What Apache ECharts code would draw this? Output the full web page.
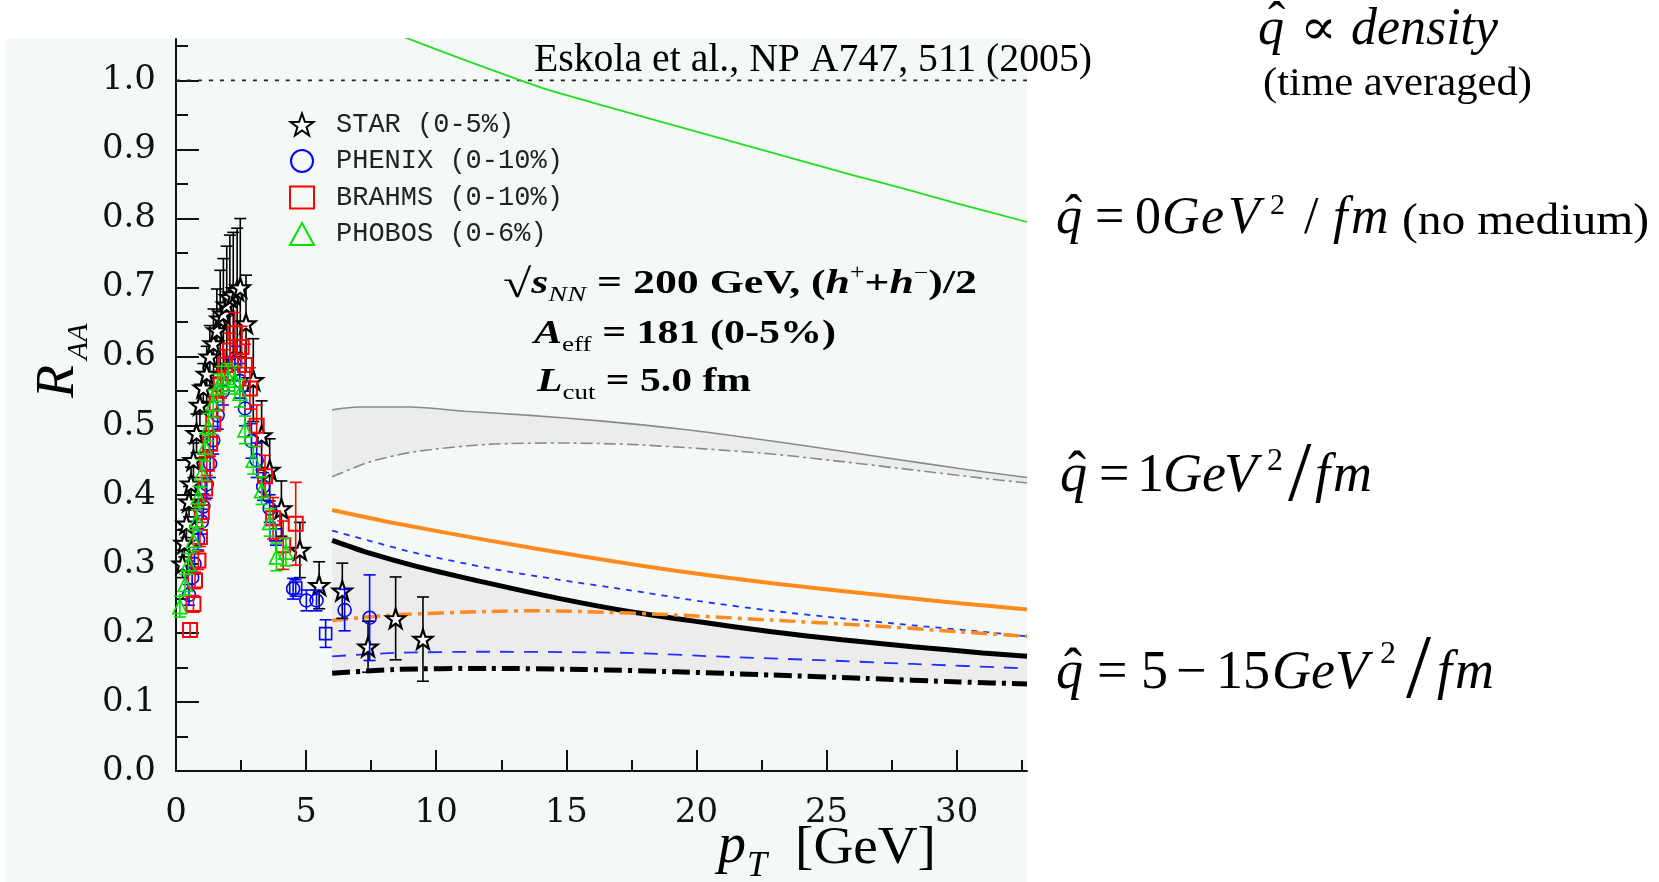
<!DOCTYPE html>
<html><head><meta charset="utf-8">
<script src="https://cdn.jsdelivr.net/npm/echarts@6.0.0/dist/echarts.min.js"></script>
<style>html,body{margin:0;padding:0;background:#fff}#c{width:1659px;height:882px}</style>
</head><body><div id="c"></div>
<script>
// ---------- tick labels ----------
const xTicks = [0, 5, 10, 15, 20, 25, 30];
const xMinor = [2.5, 7.5, 12.5, 17.5, 22.5, 27.5, 32.5];
const yTicks = [0.0, 0.1, 0.2, 0.3, 0.4, 0.5, 0.6, 0.7, 0.8, 0.9, 1.0];
const yMinor = [0.05, 0.15, 0.25, 0.35, 0.45, 0.55, 0.65, 0.75, 0.85, 0.95, 1.05];
const legendNames = ['STAR (0-5%)', 'PHENIX (0-10%)', 'BRAHMS (0-10%)', 'PHOBOS (0-6%)'];

// ---------- data: [pT, R_AA, error] ----------
const STAR = [[0.25,0.300,0.02],[0.32,0.330,0.02],[0.40,0.358,0.02],[0.50,0.390,0.022],[0.58,0.416,0.024],[0.67,0.450,0.025],[0.79,0.489,0.028],[0.92,0.530,0.03],[1.05,0.555,0.035],[1.18,0.575,0.04],[1.30,0.600,0.045],[1.44,0.619,0.05],[1.57,0.638,0.06],[1.70,0.655,0.07],[1.82,0.662,0.08],[1.95,0.675,0.085],[2.07,0.686,0.09],[2.20,0.690,0.09],[2.35,0.696,0.09],[2.47,0.700,0.10],[2.69,0.648,0.07],[2.97,0.566,0.06],[3.29,0.486,0.05],[3.60,0.436,0.045],[4.05,0.380,0.04],[4.76,0.320,0.04],[5.50,0.269,0.034],[6.39,0.261,0.04],[7.38,0.180,0.037],[8.44,0.221,0.06],[9.49,0.191,0.061]];
const PHENIX = [[0.50,0.255,0.015],[0.62,0.280,0.015],[0.71,0.300,0.015],[0.85,0.335,0.015],[0.99,0.361,0.018],[1.05,0.383,0.018],[1.18,0.415,0.02],[1.31,0.445,0.02],[1.43,0.479,0.02],[1.60,0.515,0.02],[1.80,0.550,0.02],[2.00,0.575,0.025],[2.26,0.590,0.025],[2.45,0.565,0.025],[2.65,0.525,0.025],[2.90,0.478,0.025],[3.10,0.450,0.025],[3.35,0.412,0.02],[3.60,0.380,0.02],[4.50,0.264,0.015],[5.01,0.247,0.015],[5.40,0.247,0.015],[6.48,0.233,0.03],[7.44,0.222,0.062]];
const PHENIX_SQ = [[3.84,0.342,0.015],[4.60,0.265,0.012],[5.75,0.199,0.02]];
const BRAHMS = [[0.54,0.204,0.01],[0.67,0.242,0.012],[0.73,0.276,0.012],[0.86,0.305,0.013],[0.92,0.339,0.014],[0.99,0.375,0.015],[1.12,0.409,0.016],[1.18,0.445,0.017],[1.31,0.474,0.018],[1.43,0.503,0.019],[1.56,0.532,0.02],[1.72,0.560,0.02],[1.88,0.588,0.022],[2.07,0.609,0.025],[2.26,0.634,0.03],[2.52,0.614,0.03],[2.65,0.588,0.03],[2.84,0.554,0.03],[3.10,0.500,0.03],[3.42,0.427,0.03],[3.73,0.366,0.03],[4.12,0.327,0.035],[4.60,0.358,0.06]];
const PHOBOS = [[0.15,0.238,0.015],[0.35,0.270,0.015],[0.48,0.300,0.015],[0.67,0.334,0.015],[0.80,0.363,0.015],[0.86,0.397,0.015],[0.99,0.431,0.02],[1.12,0.469,0.02],[1.25,0.498,0.02],[1.43,0.532,0.02],[1.60,0.555,0.02],[1.75,0.566,0.02],[2.00,0.570,0.02],[2.26,0.566,0.02],[2.46,0.547,0.02],[2.65,0.494,0.02],[2.97,0.450,0.02],[3.29,0.406,0.02],[3.60,0.360,0.02],[3.86,0.310,0.02],[4.22,0.317,0.02]];

// ---------- theory curves: [pT, R_AA] ----------
const noMedium = [[6,1.103],[8,1.074],[10,1.045],[12,1.017],[14,0.990],[16,0.968],[18,0.947],[20,0.926],[22,0.905],[24,0.884],[26,0.863],[28,0.843],[30,0.822],[32.7,0.795]];
const grayUpper = [[6,0.523],[7,0.527],[9,0.527],[11.1,0.521],[13.6,0.515],[16.3,0.507],[19.2,0.496],[21.9,0.483],[24.7,0.468],[27.4,0.453],[30.1,0.438],[32.7,0.425]];
const grayLower = [[6,0.426],[7.47,0.448],[9.28,0.463],[12,0.473],[14.7,0.475],[17.4,0.473],[20.1,0.467],[22.9,0.459],[25.6,0.448],[28.3,0.436],[31,0.424],[32.7,0.417]];
const orangeSolid = [[6,0.378],[8.38,0.359],[12,0.334],[15.6,0.311],[19.2,0.290],[22.9,0.272],[26.5,0.257],[30.1,0.243],[32.7,0.234]];
const blueDotted = [[6,0.348],[7.47,0.333],[9.28,0.315],[12,0.294],[14.7,0.277],[17.4,0.262],[20.1,0.246],[22.9,0.232],[25.6,0.221],[28.3,0.211],[31,0.2016],[32.7,0.195]];
const blackSolid = [[6,0.334],[7.47,0.315],[9.28,0.296],[12,0.272],[14.7,0.250],[17.4,0.231],[20.1,0.216],[22.9,0.2016],[25.6,0.190],[28.3,0.180],[31,0.171],[32.7,0.166]];
const orangeDashDot = [[6,0.218],[8.38,0.226],[12,0.231],[13.8,0.232],[15.6,0.231],[19.2,0.226],[22.9,0.2185],[26.5,0.211],[30.1,0.2016],[32.7,0.195]];
const blueDashed = [[6,0.166],[8.38,0.171],[12,0.1727],[17.4,0.171],[21,0.1655],[24.7,0.1606],[28.3,0.155],[32.7,0.1486]];
const blackDashDot = [[6,0.1414],[8.38,0.147],[12,0.1486],[15.6,0.147],[19.2,0.1437],[22.9,0.139],[26.5,0.134],[30.1,0.129],[32.7,0.126]];
const unity = [[0,1.0],[32.7,1.0]];

const X_MAX = 32.7, Y_MAX = 1.06;
const STAR_PATH = 'path://M50 2 L61.8 36.2 L97.6 36.9 L69 58.6 L79.4 93 L50 72.5 L20.6 93 L31 58.6 L2.4 36.9 L38.2 36.2 Z';

// ---------- text helpers ----------
const SERIF = '"Liberation Serif", "DejaVu Serif", serif';
const mctx = document.createElement('canvas').getContext('2d');
function fontOf(size, o) {
  return (o.italic ? 'italic ' : 'normal ') + (o.bold ? 'bold ' : 'normal ') + size + 'px ' + (o.family || SERIF);
}
function T(text, x0, baseline, size, o) {
  o = o || {};
  const font = fontOf(size, o);
  let sx = 1;
  if (o.x1) {
    mctx.font = font;
    const w = mctx.measureText(text).width;
    sx = Math.min(1.4, Math.max(0.7, (o.x1 - x0) / w));
  }
  return { type: 'text', x: x0, y: baseline - 0.34 * size, scaleX: sx, z: 100, silent: true,
    style: { text: text, x: 0, y: 0, font: font, fill: o.color || '#000', align: 'left', verticalAlign: 'middle' } };
}
// lay out pieces one after another, then stretch the whole run to [x0, x1]
function run(pieces, x0, x1, baseline) {
  let cur = 0; const pos = [];
  pieces.forEach(p => { mctx.font = fontOf(p.size, p); pos.push(cur); cur += mctx.measureText(p.t).width; });
  const s = (x1 - x0) / cur;
  return pieces.map((p, i) => {
    const e = T(p.t, x0 + pos[i] * s, baseline + (p.dy || 0), p.size, p);
    e.scaleX = s; return e;
  });
}

const ann = 34, sub = 22;
const texts = [
  T('Eskola et al., NP A747, 511 (2005)', 534, 74, 40, {x1: 1092}),
  T('q', 1258, 48, 52, {italic: true}), T('ˆ', 1268, 42, 52),
  T('∝', 1300, 48, 50, {x1: 1337}),
  T('density', 1351, 48, 52, {italic: true, x1: 1498}),
  T('(time averaged)', 1263, 98, 41, {x1: 1532}),
  // line q=0
  T('q', 1056, 237, 52, {italic: true}), T('ˆ', 1065, 235, 52),
  T('=', 1095, 237, 52), T('0', 1135, 237, 52),
  T('G', 1162, 237, 52, {italic: true}), T('e', 1201, 237, 52, {italic: true}), T('V', 1228, 237, 52, {italic: true}),
  T('2', 1270, 216, 30), T('/', 1304, 237, 52),
  T('f', 1333, 237, 52, {italic: true}), T('m', 1351, 237, 52, {italic: true}),
  T('(no medium)', 1402, 237, 44, {x1: 1649}),
  // line q=1
  T('q', 1060, 495, 54, {italic: true}), T('ˆ', 1068, 493, 54),
  T('=', 1099, 495, 54), T('1', 1137, 495, 54),
  T('G', 1163, 495, 54, {italic: true}), T('e', 1202, 495, 54, {italic: true}), T('V', 1224, 495, 54, {italic: true}),
  T('2', 1267, 472, 32), T('/', 1288, 506, 84),
  T('f', 1315, 495, 54, {italic: true}), T('m', 1333, 495, 54, {italic: true}),
  // line q=5-15
  T('q', 1056, 692, 54, {italic: true}), T('ˆ', 1064, 690, 54),
  T('=', 1097, 692, 54), T('5', 1141, 692, 54), T('−', 1176, 692, 54), T('15', 1216, 692, 54),
  T('G', 1272, 692, 54, {italic: true}), T('e', 1311, 692, 54, {italic: true}), T('V', 1335, 692, 54, {italic: true}),
  T('2', 1380, 665, 32), T('/', 1406, 704, 90),
  T('f', 1437, 692, 54, {italic: true}), T('m', 1455, 692, 54, {italic: true}),
  // axis titles
  T('p', 718, 866, 56, {italic: true}), T('T', 747, 879, 36, {italic: true}),
  T('[GeV]', 795, 867, 52, {x1: 936})
].concat(
  run([{t: '√', size: 40, dy: 4}, {t: 's', size: ann, italic: true, bold: true}, {t: 'NN', size: sub, italic: true, dy: 7},
       {t: ' = 200 GeV, (', size: ann, bold: true}, {t: 'h', size: ann, italic: true, bold: true},
       {t: '+', size: 20, dy: -15}, {t: '+', size: ann, bold: true}, {t: 'h', size: ann, italic: true, bold: true},
       {t: '−', size: 20, dy: -15}, {t: ')/2', size: ann, bold: true}], 503, 977, 296),
  run([{t: 'A', size: ann, italic: true, bold: true}, {t: 'eff', size: sub, dy: 7}, {t: ' = 181 (0-5%)', size: ann, bold: true}], 534, 836, 346),
  run([{t: 'L', size: ann, italic: true, bold: true}, {t: 'cut', size: sub, dy: 7}, {t: ' = 5.0 fm', size: ann, bold: true}], 537, 751, 394)
);
const rAA = { type: 'group', x: 77, y: 398, rotation: Math.PI / 2, z: 100, silent: true, children: [
  { type: 'text', x: 0, y: -0.34 * 54, style: { text: 'R', font: 'italic normal 54px ' + SERIF, fill: '#000', align: 'left', verticalAlign: 'middle' } },
  { type: 'text', x: 38, y: 12 - 0.34 * 30, style: { text: 'AA', font: 'italic normal 30px ' + SERIF, fill: '#000', align: 'left', verticalAlign: 'middle' } }
]};

// ---------- series helpers ----------
function curve(data, color, width, type, z) {
  return { type: 'line', data: data, showSymbol: false, symbol: 'none', smooth: 0.25,
    lineStyle: { color: color, width: width, type: type, cap: 'butt' }, z: z || 3, silent: true, clip: true };
}
function errBars(name, data, color, z) {
  return { type: 'custom', name: name, data: data, encode: { x: 0, y: 1 }, z: z, silent: true,
    renderItem: function (params, api) {
      const x = api.value(0), y = api.value(1), e = api.value(2);
      const p0 = api.coord([x, y - e]), p1 = api.coord([x, y + e]);
      const cw = 6, st = { stroke: color, lineWidth: 1.6 };
      return { type: 'group', children: [
        { type: 'line', shape: { x1: p0[0], y1: p0[1], x2: p1[0], y2: p1[1] }, style: st },
        { type: 'line', shape: { x1: p0[0] - cw, y1: p0[1], x2: p0[0] + cw, y2: p0[1] }, style: st },
        { type: 'line', shape: { x1: p1[0] - cw, y1: p1[1], x2: p1[0] + cw, y2: p1[1] }, style: st }
      ]};
    } };
}
function points(name, data, symbol, size, fill, stroke, bw, z) {
  return { type: 'scatter', name: name, data: data, encode: { x: 0, y: 1 }, symbol: symbol, symbolSize: size,
    itemStyle: { color: fill, borderColor: stroke, borderWidth: bw, opacity: 1 }, z: z, silent: true };
}
const bands = { type: 'custom', data: [[0, 0]], z: 1, silent: true,
  renderItem: function (params, api) {
    const poly = (up, lo) => up.map(p => api.coord(p)).concat(lo.slice().reverse().map(p => api.coord(p)));
    return { type: 'group', children: [
      { type: 'polygon', shape: { points: poly(grayUpper, grayLower), smooth: 0 }, style: { fill: '#ececec' } },
      { type: 'polygon', shape: { points: poly(blackSolid, blackDashDot), smooth: 0 }, style: { fill: '#ececec' } }
    ]};
  } };

const axisFont = { fontFamily: '"DejaVu Serif", serif', fontSize: 34, color: '#111' };
const chart = echarts.init(document.getElementById('c'), null, { renderer: 'canvas' });
chart.setOption({
  animation: false,
  backgroundColor: '#ffffff',
  grid: { left: 176, top: 39, width: 851, height: 732, containLabel: false },
  xAxis: [
    { type: 'value', min: 0, max: X_MAX, interval: 5, splitLine: { show: false },
      axisLine: { show: true, onZero: false, lineStyle: { color: '#111', width: 2 } },
      axisTick: { inside: true, length: 21, lineStyle: { color: '#111', width: 2 }, customValues: xTicks },
      axisLabel: Object.assign({ customValues: xTicks, margin: 25 }, axisFont) },
    { type: 'value', min: 0, max: X_MAX, position: 'bottom', splitLine: { show: false },
      axisLine: { show: false }, axisLabel: { show: false },
      axisTick: { inside: true, length: 11, lineStyle: { color: '#111', width: 2 }, customValues: xMinor } }
  ],
  yAxis: [
    { type: 'value', min: 0, max: Y_MAX, interval: 0.1, splitLine: { show: false },
      axisLine: { show: true, onZero: false, lineStyle: { color: '#111', width: 2 } },
      axisTick: { inside: true, length: 23, lineStyle: { color: '#111', width: 2 }, customValues: yTicks },
      axisLabel: Object.assign({ customValues: yTicks, margin: 20, formatter: v => v.toFixed(1) }, axisFont) },
    { type: 'value', min: 0, max: Y_MAX, position: 'left', splitLine: { show: false },
      axisLine: { show: false }, axisLabel: { show: false },
      axisTick: { inside: true, length: 12, lineStyle: { color: '#111', width: 2 }, customValues: yMinor } }
  ],
  legend: { data: legendNames, orient: 'vertical', left: 284, top: 106, itemWidth: 24, itemHeight: 22, itemGap: 9.5,
    selectedMode: false, textStyle: { fontFamily: '"Liberation Mono", monospace', fontSize: 27, color: '#222', padding: [0, 0, 0, 17] } },
  graphic: [ { type: 'rect', shape: { x: 6, y: 39, width: 1021, height: 843 }, style: { fill: '#f4f9f6' }, z: -10, silent: true } ]
    .concat(texts).concat([rAA]),
  series: [
    bands,
    curve(unity, '#222', 1.7, [4, 7], 2),
    curve(noMedium, '#22dd22', 1.8, 'solid'),
    curve(grayUpper, '#8a8a8a', 1.6, 'solid'),
    curve(grayLower, '#8a8a8a', 1.6, [12, 4, 3, 4]),
    curve(orangeSolid, '#ff8a1e', 4, 'solid'),
    curve(blueDotted, '#2030ff', 1.8, [6, 6]),
    curve(blackSolid, '#000', 5, 'solid'),
    curve(orangeDashDot, '#ff8a1e', 3.5, [16, 6, 4, 6]),
    curve(blueDashed, '#2030ff', 1.8, [14, 10]),
    curve(blackDashDot, '#000', 5, [18, 6, 4, 6]),
    errBars('STAR err', STAR, '#000', 4),
    points(legendNames[0], STAR, STAR_PATH, 19, '#ffffff', '#000000', 2.2, 5),
    errBars('PHENIX err', PHENIX, '#0000ff', 6),
    errBars('PHENIX sq err', PHENIX_SQ, '#0000ff', 6),
    points(legendNames[1], PHENIX, 'circle', 13, 'rgba(255,255,255,0)', '#0000ff', 1.6, 7),
    points('PHENIX sq', PHENIX_SQ, 'rect', 12, 'rgba(255,255,255,0)', '#0000ff', 1.6, 7),
    errBars('BRAHMS err', BRAHMS, '#ff0000', 8),
    points(legendNames[2], BRAHMS, 'rect', 14, 'rgba(255,255,255,0)', '#ff0000', 2, 9),
    errBars('PHOBOS err', PHOBOS, '#00dd00', 10),
    points(legendNames[3], PHOBOS, 'triangle', 14, 'rgba(255,255,255,0)', '#00dd00', 1.6, 11)
  ]
});
</script></body></html>
